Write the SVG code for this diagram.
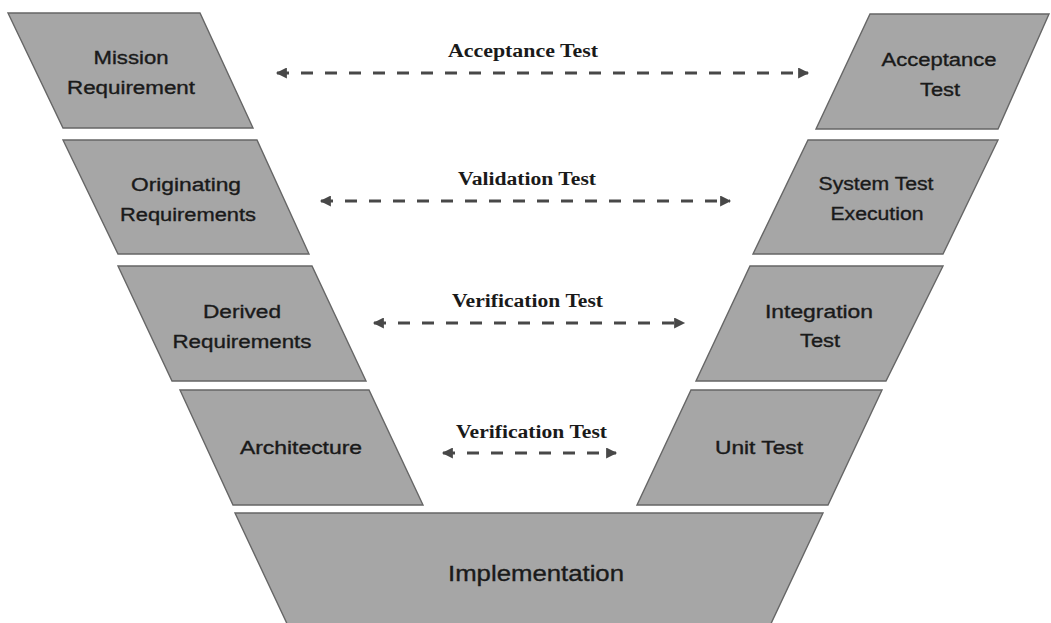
<svg xmlns="http://www.w3.org/2000/svg" width="1051" height="623" viewBox="0 0 1051 623">
  <defs>
    <style>
      .stage { fill: #a6a6a6; stroke: #666666; stroke-width: 1.4; stroke-linejoin: miter; }
      .name { font-family: "Liberation Sans", Arial, sans-serif; font-size: 18px; fill: #1a1a1a; stroke: #1a1a1a; stroke-width: 0.35; text-anchor: middle; }
      .big { font-size: 22px; }
      .link { stroke: #484848; stroke-width: 3; stroke-dasharray: 12 12; fill: none; }
      .tag { font-family: "Liberation Serif", "Times New Roman", serif; font-weight: bold; font-size: 18.5px; fill: #1a1a1a; text-anchor: middle; }
    </style>
    <marker id="head" viewBox="0 0 10 10" refX="9" refY="5" markerUnits="userSpaceOnUse" markerWidth="12" markerHeight="11" orient="auto-start-reverse">
      <path d="M0,0 L10,5 L0,10 z" fill="#484848"/>
    </marker>
  </defs>

  <rect width="1051" height="623" fill="#ffffff"/>

  <!-- left leg: definition stages -->
  <g id="mission-requirement">
    <polygon class="stage" points="8,13 200,13 253,128 63,128"/>
    <text class="name" x="131" y="64" textLength="75" lengthAdjust="spacingAndGlyphs">Mission</text>
    <text class="name" x="131" y="94" textLength="128" lengthAdjust="spacingAndGlyphs">Requirement</text>
  </g>
  <g id="originating-requirements">
    <polygon class="stage" points="63,140 257,140 309,254 118,254"/>
    <text class="name" x="186" y="191" textLength="110" lengthAdjust="spacingAndGlyphs">Originating</text>
    <text class="name" x="188" y="221" textLength="136" lengthAdjust="spacingAndGlyphs">Requirements</text>
  </g>
  <g id="derived-requirements">
    <polygon class="stage" points="118,266 312,266 366,381 172,381"/>
    <text class="name" x="242" y="318" textLength="78" lengthAdjust="spacingAndGlyphs">Derived</text>
    <text class="name" x="242" y="348" textLength="139" lengthAdjust="spacingAndGlyphs">Requirements</text>
  </g>
  <g id="architecture">
    <polygon class="stage" points="180,390 369,390 423,505 233,505"/>
    <text class="name" x="301" y="454" textLength="122" lengthAdjust="spacingAndGlyphs">Architecture</text>
  </g>

  <!-- right leg: test stages -->
  <g id="acceptance-test">
    <polygon class="stage" points="870,14 1049,14 998,129 816,129"/>
    <text class="name" x="939" y="66" textLength="115" lengthAdjust="spacingAndGlyphs">Acceptance</text>
    <text class="name" x="940" y="96" textLength="40" lengthAdjust="spacingAndGlyphs">Test</text>
  </g>
  <g id="system-test-execution">
    <polygon class="stage" points="808,140 998,140 943,254 753,254"/>
    <text class="name" x="876" y="190" textLength="115" lengthAdjust="spacingAndGlyphs">System Test</text>
    <text class="name" x="877" y="220" textLength="93" lengthAdjust="spacingAndGlyphs">Execution</text>
  </g>
  <g id="integration-test">
    <polygon class="stage" points="750,266 943,266 886,381 696,381"/>
    <text class="name" x="819" y="318" textLength="108" lengthAdjust="spacingAndGlyphs">Integration</text>
    <text class="name" x="820" y="347" textLength="40" lengthAdjust="spacingAndGlyphs">Test</text>
  </g>
  <g id="unit-test">
    <polygon class="stage" points="691,390 882,390 828,505 637,505"/>
    <text class="name" x="759" y="454" textLength="88" lengthAdjust="spacingAndGlyphs">Unit Test</text>
  </g>

  <!-- base of the V -->
  <g id="implementation">
    <polygon class="stage" points="235,513 823,513 768,630 290,630"/>
    <text class="name big" x="536" y="581" textLength="176" lengthAdjust="spacingAndGlyphs">Implementation</text>
  </g>

  <!-- test relationships between the two legs -->
  <g id="connectors">
    <line class="link" x1="277" y1="73" x2="808" y2="73" marker-start="url(#head)" marker-end="url(#head)"/>
    <text class="tag" x="523" y="57" textLength="150" lengthAdjust="spacingAndGlyphs">Acceptance Test</text>

    <line class="link" x1="321" y1="201" x2="730" y2="201" marker-start="url(#head)" marker-end="url(#head)"/>
    <text class="tag" x="527" y="185" textLength="138" lengthAdjust="spacingAndGlyphs">Validation Test</text>

    <line class="link" x1="374" y1="323" x2="684" y2="323" marker-start="url(#head)" marker-end="url(#head)"/>
    <text class="tag" x="527.5" y="307" textLength="151" lengthAdjust="spacingAndGlyphs">Verification Test</text>

    <line class="link" x1="443" y1="453" x2="616" y2="453" marker-start="url(#head)" marker-end="url(#head)"/>
    <text class="tag" x="531.5" y="438" textLength="151" lengthAdjust="spacingAndGlyphs">Verification Test</text>
  </g>
</svg>
